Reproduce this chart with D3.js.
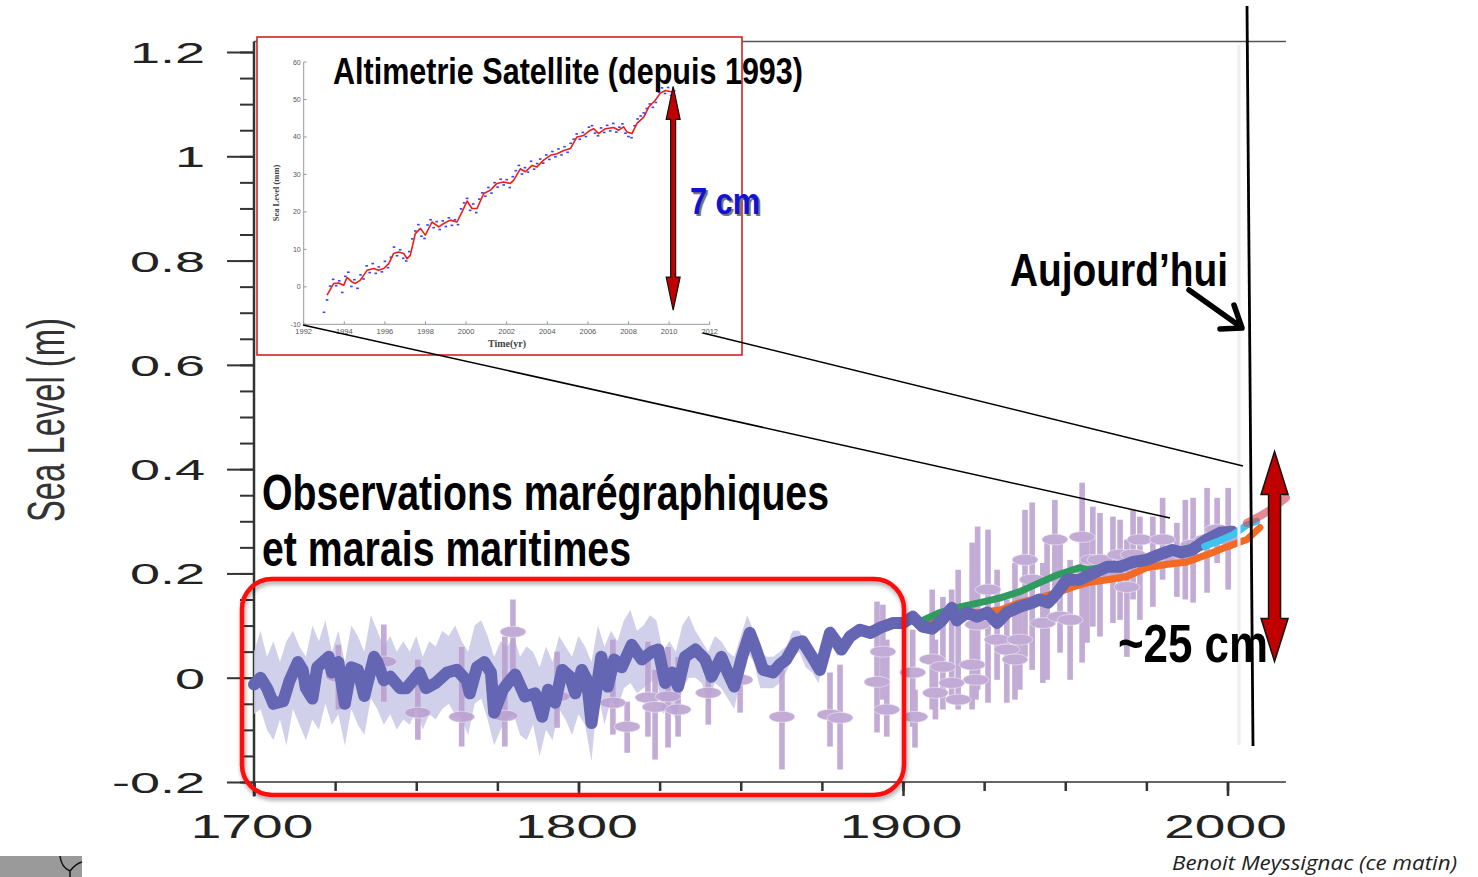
<!DOCTYPE html>
<html>
<head>
<meta charset="utf-8">
<script src="https://cdn.jsdelivr.net/npm/d3@7"></script>
<style>
  html, body { margin: 0; padding: 0; background: #fff; }
  svg { display: block; }
</style>
</head>
<body>
<svg id="chart" width="1478" height="877"></svg>
<script>
// ---------------- main chart axes ----------------
const yTickValues = [-0.2, 0, 0.2, 0.4, 0.6, 0.8, 1, 1.2];
const yTickLabels = ["-0.2", "0", "0.2", "0.4", "0.6", "0.8", "1", "1.2"];
const xTickValues = [1700, 1800, 1900, 2000];
const xTickLabels = ["1700", "1800", "1900", "2000"];

// ---------------- reconstruction 1700-2001 (m) ----------------
const reconYears = [1700,1702,1704,1706,1709,1711,1713.5,1715,1716,1718,1719.5,1723,1724,1726,1728,1730,1732,1734,1737,1738,1740,1742,1745,1747,1749,1751,1753,1756,1759.5,1762.5,1765.5,1766.5,1768.7,1771,1773,1774,1776.7,1779,1780.5,1783.5,1786.6,1788.8,1790.6,1792.8,1795,1797.4,1799,1801,1802.6,1804,1807,1809,1811,1813.3,1816.4,1819.5,1822.6,1824.6,1826.7,1828.8,1830.7,1832.8,1836,1839,1841,1844,1846,1848,1850.4,1852.8,1854.4,1856.9,1860,1862,1864,1867,1869,1872,1874.4,1877.5,1879.7,1881,1883.7,1886.7,1890,1893,1897,1900,1903,1906,1909,1912,1915,1916.6,1919.7,1922.8,1926,1929,1932,1936,1940,1942,1944.7,1947.5,1950.5,1954.5,1958.6,1963,1967,1971,1975,1979,1983,1986,1989,1993.7,1997.7,2001.5];
const reconValues = [-0.013,0.0,-0.02,-0.05,-0.045,-0.005,0.03,0.015,-0.02,-0.04,0.02,0.04,0.01,0.03,-0.05,0.02,0.015,-0.035,0.04,0.03,-0.005,0.002,-0.02,-0.02,-0.005,0.01,-0.02,-0.01,0.01,0.015,-0.005,-0.03,0.02,0.03,0.01,-0.067,-0.023,-0.004,0.006,-0.036,-0.03,-0.075,-0.023,-0.048,0.015,0.002,-0.03,0.015,-0.004,-0.087,0.04,-0.017,0.035,0.02,0.063,0.035,0.05,0.054,-0.01,0.01,-0.017,0.04,0.054,0.035,0.002,0.04,0.01,-0.017,0.04,0.086,0.06,0.015,0.01,0.025,0.035,0.067,0.07,0.04,0.015,0.086,0.067,0.054,0.079,0.092,0.086,0.096,0.105,0.105,0.117,0.098,0.094,0.11,0.134,0.11,0.125,0.117,0.125,0.105,0.125,0.136,0.144,0.15,0.144,0.163,0.188,0.188,0.2,0.213,0.213,0.222,0.226,0.236,0.245,0.24,0.245,0.265,0.278,0.28];

// uncertainty envelope of the reconstruction
const bandYears = [1700,1702,1704,1706,1708,1710,1712,1714,1716,1718,1720,1722,1724,1726,1728,1730,1732,1734,1736,1738,1740,1742,1744,1746,1748,1750,1752,1754,1756,1758,1760,1762,1764,1766,1768,1770,1772,1774,1776,1778,1780,1782,1784,1786,1788,1790,1792,1794,1796,1798,1800,1802,1804,1806,1808,1810,1812,1814,1816,1818,1820,1822,1824,1826,1828,1830,1832,1834,1836,1838,1840,1842,1844,1846,1848,1850,1852,1854,1856,1858,1860,1862,1864,1866,1868,1870,1872,1874,1876,1878,1880];
const bandUpper = [0.05,0.09,0.04,0.07,0.03,0.07,0.09,0.06,0.04,0.10,0.07,0.11,0.05,0.09,0.03,0.10,0.08,0.05,0.12,0.09,0.06,0.08,0.05,0.07,0.05,0.08,0.04,0.07,0.06,0.09,0.08,0.10,0.07,0.05,0.10,0.11,0.08,0.04,0.07,0.06,0.08,0.04,0.06,0.05,0.02,0.06,0.03,0.08,0.06,0.04,0.08,0.06,0.03,0.10,0.06,0.09,0.07,0.11,0.13,0.09,0.10,0.12,0.11,0.05,0.07,0.05,0.10,0.12,0.09,0.07,0.05,0.08,0.07,0.05,0.04,0.08,0.12,0.09,0.05,0.04,0.04,0.05,0.06,0.09,0.09,0.07,0.06,0.04,0.09,0.10,0.08];
const bandLower = [-0.07,-0.06,-0.10,-0.12,-0.08,-0.13,-0.06,-0.09,-0.12,-0.08,-0.10,-0.05,-0.09,-0.07,-0.13,-0.06,-0.09,-0.11,-0.04,-0.06,-0.09,-0.07,-0.10,-0.08,-0.09,-0.06,-0.10,-0.07,-0.08,-0.06,-0.05,-0.07,-0.08,-0.11,-0.05,-0.04,-0.08,-0.13,-0.10,-0.08,-0.07,-0.11,-0.12,-0.09,-0.15,-0.10,-0.12,-0.06,-0.08,-0.11,-0.07,-0.09,-0.16,-0.03,-0.09,-0.04,-0.06,-0.02,-0.01,-0.03,-0.02,-0.01,0.0,-0.07,-0.05,-0.08,-0.02,0.0,0.0,-0.01,-0.05,-0.01,-0.02,-0.04,-0.06,0.0,0.05,0.03,-0.02,-0.02,-0.02,-0.01,0.01,0.04,0.05,0.02,0.01,-0.01,0.05,0.06,0.04];

// ---------------- tide gauge reconstructions ----------------
const greenYears = [1903,1905,1911.4,1917.6,1923.7,1930,1936,1942,1947.5,1954.5,1956.7,1963,1971,1977,1985.4,1989,1992.5];
const greenValues = [0.108,0.107,0.125,0.136,0.144,0.153,0.165,0.182,0.197,0.211,0.207,0.213,0.222,0.23,0.245,0.25,0.251];
const orangeYears = [1883,1888,1893,1897,1902,1908,1914.5,1923.7,1930,1936,1942,1947.5,1952.4,1956.7,1963,1969,1975,1981,1987.5,1993.7,1999.8,2006,2010];
const orangeValues = [0.08,0.088,0.098,0.105,0.111,0.105,0.125,0.125,0.13,0.144,0.153,0.163,0.174,0.182,0.188,0.194,0.211,0.217,0.222,0.236,0.251,0.265,0.288];
const cyanYears = [1993,1996.8,2001.7,2006,2009];
const cyanValues = [0.252,0.261,0.274,0.293,0.30];
const redYears = [2006,2010,2014,2018];
const redValues = [0.297,0.31,0.325,0.345];

// ---------------- salt-marsh / tide gauge points with error bars ----------------
const marshYears = [1726,1740,1750.5,1764,1777.3,1779.8,1793.4,1810.6,1815,1821.4,1823.6,1827.6,1830.7,1840,1849.8,1862.7,1877.5,1880.6,1892,1893.8,1895,1903,1903.7,1909,1910,1912.3,1915,1917,1921.3,1922.5,1923,1926.2,1929,1932,1934.5,1936,1937.6,1939.8,1943.1,1944.4,1946.8,1948.4,1951.5,1955.2,1956.7,1958.5,1960.7,1964.7,1966.9,1969,1970.9,1973,1977,1980,1984.4,1987,1989.4,1993.7,1996.8,2000.2];
const marshValues = [0.002,0.031,-0.067,-0.075,-0.073,0.088,-0.036,-0.048,-0.094,-0.038,-0.056,-0.036,-0.061,-0.029,-0.004,-0.075,-0.071,-0.077,-0.008,0.05,-0.061,0.01,-0.075,0.035,-0.029,0.021,-0.01,-0.042,0.025,-0.004,0.102,0.169,0.073,0.054,0.035,0.073,0.226,0.188,0.105,0.15,0.265,0.117,0.111,0.27,0.207,0.226,0.226,0.198,0.236,0.174,0.236,0.265,0.217,0.265,0.226,0.236,0.255,0.265,0.284,0.265];
const marshHigh = [0.063,0.102,0.035,0.059,0.079,0.15,0.05,0.073,-0.046,0.069,0.015,0.059,0.04,0.015,0.04,0.015,0.01,0.025,0.146,0.14,0.073,0.092,-0.023,0.169,0.073,0.155,0.169,0.207,0.259,0.15,0.29,0.284,0.207,0.15,0.22,0.169,0.322,0.336,0.22,0.265,0.341,0.27,0.226,0.374,0.265,0.328,0.316,0.309,0.303,0.265,0.322,0.309,0.309,0.345,0.297,0.341,0.345,0.364,0.345,0.364];
const marshLow = [-0.061,-0.046,-0.119,-0.132,-0.132,0.01,-0.096,-0.109,-0.144,-0.113,-0.157,-0.134,-0.113,-0.09,-0.067,-0.176,-0.132,-0.176,-0.105,-0.042,-0.113,-0.094,-0.134,-0.061,-0.08,-0.061,-0.048,-0.061,-0.061,-0.042,-0.023,-0.048,-0.004,-0.048,-0.042,-0.023,0.04,0.015,-0.01,-0.004,0.15,0.048,-0.004,0.029,0.067,0.098,0.079,0.105,0.111,0.04,0.15,0.111,0.136,0.188,0.155,0.15,0.144,0.163,0.22,0.169];

// ---------------- satellite altimetry inset (mm) ----------------
const insetYTicks = [-10, 0, 10, 20, 30, 40, 50, 60];
const insetXTicks = [1992, 1994, 1996, 1998, 2000, 2002, 2004, 2006, 2008, 2010, 2012];
const altiYears = [1993.15,1993.48,1993.72,1993.97,1994.13,1994.38,1994.55,1994.79,1995.12,1995.45,1995.69,1995.94,1996.19,1996.43,1996.68,1996.93,1997.09,1997.25,1997.5,1997.75,1997.99,1998.32,1998.65,1998.9,1999.22,1999.55,1999.8,2000.05,2000.29,2000.54,2000.87,2001.2,2001.52,2001.85,2002.18,2002.34,2002.67,2002.92,2003.25,2003.49,2003.82,2004.15,2004.48,2004.81,2005.14,2005.46,2005.79,2006.12,2006.29,2006.53,2006.86,2007.27,2007.52,2007.76,2007.93,2008.17,2008.42,2008.75,2009.0,2009.32,2009.57,2009.82,2010.14];
const altiSmooth = [-2.2,0.9,1.0,0.4,2.5,1.3,0.9,1.8,4.4,4.9,4.4,4.9,6.2,8.9,9.3,8.9,7.5,8.4,14.2,15.6,13.8,17.3,16.0,16.9,17.8,17.3,20.0,22.9,20.9,20.9,24.9,25.8,27.6,28.0,27.6,28.4,31.5,30.7,32.4,32.0,33.8,35.1,35.5,36.4,36.9,40.0,40.4,41.8,42.2,40.9,42.2,42.5,41.8,42.7,41.3,40.9,43.6,45.3,48.0,49.8,51.7,52.4,52.0];
// cycle estimates, first cycle 1993.0, one value every 0.15 yr
const altiRawStart = 1993.0;
const altiRawStep = 0.15;
const altiRaw = [-6.8,-3.5,0.2,2.0,0.3,1.6,-1.5,2.8,3.9,0.1,1.9,-0.4,3.2,2.1,5.6,3.8,6.2,3.6,5.3,4.0,6.8,5.1,7.9,10.6,8.3,9.9,7.6,6.9,9.4,12.8,14.9,16.6,13.5,12.9,16.5,17.9,15.8,17.4,15.3,17.6,16.1,18.4,16.4,17.9,16.6,20.8,22.4,23.6,20.4,22.1,19.8,23.4,25.1,24.2,26.5,25.0,27.8,26.6,28.7,27.2,28.6,26.5,29.4,31.0,32.4,30.1,31.8,30.6,33.5,31.4,32.9,34.1,33.0,35.2,34.0,36.1,34.7,36.8,35.2,37.4,35.9,38.3,39.4,40.8,39.4,41.2,40.1,42.6,43.0,41.0,40.3,42.4,41.2,43.1,41.6,43.6,41.3,42.6,43.5,41.0,40.1,39.8,43.0,44.8,45.6,46.4,47.6,48.8,47.9,49.2,51.9,53.1,51.6,53.2,51.1,52.3];

// ---------------- drawing ----------------
const svg = d3.select("#chart");
const W = 1478, H = 877;
svg.append("rect").attr("width", W).attr("height", H).attr("fill", "#fff");

const x = d3.scaleLinear().domain([1700, 2000]).range([254, 1227.5]);
const y = d3.scaleLinear().domain([-0.2, 1.2]).range([782, 52]);

const narrow = "'Liberation Sans Narrow','Arial Narrow','Liberation Sans',Arial,sans-serif";
const sans = "'Liberation Sans',Arial,Helvetica,sans-serif";

const defs = svg.append("defs");
const shadow = defs.append("filter").attr("id", "soft").attr("x", "-10%").attr("y", "-10%").attr("width", "120%").attr("height", "130%");
shadow.append("feDropShadow").attr("dx", 1).attr("dy", 3).attr("stdDeviation", 2).attr("flood-color", "#000").attr("flood-opacity", 0.35);
const blurF = defs.append("filter").attr("id", "blur1");
blurF.append("feGaussianBlur").attr("stdDeviation", 0.6);

// top frame line
svg.append("line")
  .attr("x1", x(1700)).attr("x2", x(2018))
  .attr("y1", y(1.22)).attr("y2", y(1.22))
  .attr("stroke", "#555").attr("stroke-width", 1.5);

// left axis: majors with long ticks, minors every 0.05
const yMinor = d3.range(-0.2, 1.2001, 0.05).map(v => +v.toFixed(2));
const leftAxisMinor = d3.axisLeft(y).tickValues(yMinor).tickSize(14).tickFormat("");
const leftAxisMajor = d3.axisLeft(y).tickValues(yTickValues).tickSize(27).tickFormat("");
const gL1 = svg.append("g").attr("transform", `translate(${x(1700)},0)`).call(leftAxisMinor);
const gL2 = svg.append("g").attr("transform", `translate(${x(1700)},0)`).call(leftAxisMajor);
[gL1, gL2].forEach(g => {
  g.select(".domain").remove();
  g.selectAll("line").attr("stroke", "#333").attr("stroke-width", 2);
});
svg.append("line").attr("x1", x(1700)).attr("x2", x(1700))
  .attr("y1", y(1.22)).attr("y2", y(-0.228))
  .attr("stroke", "#333").attr("stroke-width", 2.5);

// bottom axis
const xMinor = d3.range(1700, 2001, 25);
const bAxisMinor = d3.axisBottom(x).tickValues(xMinor).tickSize(9).tickFormat("");
const bAxisMajor = d3.axisBottom(x).tickValues(xTickValues).tickSize(14).tickFormat("");
const gB1 = svg.append("g").attr("transform", `translate(0,${y(-0.2)})`).call(bAxisMinor);
const gB2 = svg.append("g").attr("transform", `translate(0,${y(-0.2)})`).call(bAxisMajor);
[gB1, gB2].forEach(g => {
  g.select(".domain").remove();
  g.selectAll("line").attr("stroke", "#333").attr("stroke-width", 2.5);
});
svg.append("line").attr("x1", x(1700)).attr("x2", x(2018))
  .attr("y1", y(-0.2)).attr("y2", y(-0.2))
  .attr("stroke", "#333").attr("stroke-width", 1.5);

// tick labels (wide lettering)
svg.append("g").selectAll("text").data(yTickValues).join("text")
  .attr("transform", d => `translate(205,${y(d) + 11}) scale(1.8,1)`)
  .attr("text-anchor", "end")
  .attr("font-family", sans).attr("font-size", 30).attr("fill", "#222")
  .text((d, i) => yTickLabels[i]);
svg.append("g").selectAll("text").data(xTickValues).join("text")
  .attr("transform", d => `translate(${x(d) - 2},${838}) scale(1.62,1)`)
  .attr("text-anchor", "middle")
  .attr("font-family", sans).attr("font-size", 34).attr("fill", "#222")
  .text((d, i) => xTickLabels[i]);

// y axis title
svg.append("text")
  .attr("transform", "translate(64,420) rotate(-90)")
  .attr("text-anchor", "middle")
  .attr("font-family", narrow).attr("font-size", 52).attr("fill", "#333")
  .attr("textLength", 204).attr("lengthAdjust", "spacingAndGlyphs")
  .text("Sea Level (m)");

// uncertainty band
const band = bandYears.map((yr, i) => ({ yr, lo: bandLower[i], hi: bandUpper[i] }));
svg.append("path").datum(band)
  .attr("d", d3.area().x(d => x(d.yr)).y0(d => y(d.lo)).y1(d => y(d.hi)))
  .attr("fill", "#cac8e7").attr("opacity", 0.85).attr("filter", "url(#blur1)");

// marsh points with error bars
const marsh = marshYears.map((yr, i) => ({ yr, v: marshValues[i], hi: marshHigh[i], lo: marshLow[i] }));
const gm = svg.append("g").attr("opacity", 0.88);
gm.selectAll("rect").data(marsh).join("rect")
  .attr("x", d => x(d.yr) - 2.8).attr("width", 5.6)
  .attr("y", d => y(d.hi)).attr("height", d => y(d.lo) - y(d.hi))
  .attr("fill", "#baa0cf");
gm.selectAll("ellipse").data(marsh).join("ellipse")
  .attr("cx", d => x(d.yr)).attr("cy", d => y(d.v))
  .attr("rx", 13).attr("ry", 5.5)
  .attr("fill", "#baa0cf").attr("stroke", "#efe8f5").attr("stroke-width", 0.6);

// series lines
function seriesLine(years, values, color, width, opacity) {
  const pts = years.map((yr, i) => [x(yr), y(values[i])]);
  svg.append("path").datum(pts)
    .attr("d", d3.line())
    .attr("fill", "none").attr("stroke", color).attr("stroke-width", width)
    .attr("stroke-linejoin", "round").attr("stroke-linecap", "round")
    .attr("opacity", opacity || 1);
}
seriesLine(orangeYears, orangeValues, "#f26a24", 7);
seriesLine(greenYears, greenValues, "#2f9b5f", 7);
seriesLine(reconYears, reconValues, "#6466b3", 12);
seriesLine(cyanYears, cyanValues, "#3fc4ee", 7);
seriesLine(redYears, redValues, "#d84a58", 8, 0.65);

// "today" markers
svg.append("line").attr("x1", 1239).attr("x2", 1239).attr("y1", 45).attr("y2", 745)
  .attr("stroke", "#eeeef4").attr("stroke-width", 3);
svg.append("line").attr("x1", 1247).attr("x2", 1253).attr("y1", 6).attr("y2", 746)
  .attr("stroke", "#000").attr("stroke-width", 2.8);

// ---------------- inset ----------------
const ix = d3.scaleLinear().domain([1992, 2012]).range([303.7, 709.7]);
const iy = d3.scaleLinear().domain([-10, 60]).range([324.3, 62]);
const inset = svg.append("g");
inset.append("rect").attr("x", 257).attr("y", 37).attr("width", 485).attr("height", 318)
  .attr("fill", "#fff").attr("stroke", "#d42222").attr("stroke-width", 1.6);
inset.append("line").attr("x1", ix(1992)).attr("x2", ix(1992)).attr("y1", iy(60)).attr("y2", iy(-10))
  .attr("stroke", "#999").attr("stroke-width", 1);
inset.append("line").attr("x1", ix(1992)).attr("x2", ix(2012)).attr("y1", iy(-10)).attr("y2", iy(-10))
  .attr("stroke", "#999").attr("stroke-width", 1);
inset.append("g").selectAll("line").data(insetYTicks).join("line")
  .attr("x1", ix(1992)).attr("x2", ix(1992) + 3).attr("y1", d => iy(d)).attr("y2", d => iy(d))
  .attr("stroke", "#999");
inset.append("g").selectAll("line").data(insetXTicks).join("line")
  .attr("x1", d => ix(d)).attr("x2", d => ix(d)).attr("y1", iy(-10)).attr("y2", iy(-10) - 3)
  .attr("stroke", "#999");
inset.append("g").selectAll("text").data(insetYTicks).join("text")
  .attr("x", ix(1992) - 3).attr("y", d => iy(d) + 2.5).attr("text-anchor", "end")
  .attr("font-family", sans).attr("font-size", 7).attr("fill", "#555")
  .text(d => d);
inset.append("g").selectAll("text").data(insetXTicks).join("text")
  .attr("x", d => ix(d)).attr("y", iy(-10) + 10).attr("text-anchor", "middle")
  .attr("font-family", sans).attr("font-size", 7.5).attr("fill", "#555")
  .text(d => d);
inset.append("text").attr("x", 507).attr("y", 347).attr("text-anchor", "middle")
  .attr("font-family", "'Liberation Serif','DejaVu Serif',serif").attr("font-weight", "bold")
  .attr("font-size", 10).attr("fill", "#444").text("Time(yr)");
inset.append("text").attr("transform", "translate(279,193) rotate(-90)").attr("text-anchor", "middle")
  .attr("font-family", "'Liberation Serif','DejaVu Serif',serif").attr("font-weight", "bold")
  .attr("font-size", 8.5).attr("fill", "#444").text("Sea Level (mm)");

const raw = altiRaw.map((v, i) => ({ t: altiRawStart + i * altiRawStep, v }));
inset.append("g").selectAll("rect").data(raw).join("rect")
  .attr("x", d => ix(d.t) - 1.3).attr("y", d => iy(d.v) - 0.8)
  .attr("width", 2.6).attr("height", 1.6).attr("fill", "#3340ff");
inset.append("path").datum(altiYears.map((t, i) => [ix(t), iy(altiSmooth[i])]))
  .attr("d", d3.line()).attr("fill", "none").attr("stroke", "#ee1c1c").attr("stroke-width", 1.6)
  .attr("stroke-linejoin", "round");

// double-headed arrow outline
function doubleArrow(cx, top, bottom, shaftW, headW, headL) {
  const s = shaftW / 2, h = headW / 2;
  return `M${cx},${top} L${cx + h},${top + headL} L${cx + s},${top + headL} L${cx + s},${bottom - headL} ` +
         `L${cx + h},${bottom - headL} L${cx},${bottom} L${cx - h},${bottom - headL} L${cx - s},${bottom - headL} ` +
         `L${cx - s},${top + headL} L${cx - h},${top + headL} Z`;
}
inset.append("path").attr("d", doubleArrow(ix(2010.2), iy(53.5), iy(-6.2), 5, 14, 33))
  .attr("fill", "#c00000").attr("stroke", "#111").attr("stroke-width", 1.2);

// inset title and 7 cm label
svg.append("text").attr("x", 333).attr("y", 84)
  .attr("font-family", narrow).attr("font-weight", "bold").attr("font-size", 36).attr("fill", "#000")
  .attr("textLength", 470).attr("lengthAdjust", "spacingAndGlyphs")
  .text("Altimetrie Satellite (depuis 1993)");
svg.append("text").attr("x", 692).attr("y", 216)
  .attr("font-family", narrow).attr("font-weight", "bold").attr("font-size", 37).attr("fill", "#777")
  .attr("textLength", 70).attr("lengthAdjust", "spacingAndGlyphs").text("7 cm");
svg.append("text").attr("x", 690).attr("y", 214)
  .attr("font-family", narrow).attr("font-weight", "bold").attr("font-size", 37).attr("fill", "#1111dd")
  .attr("textLength", 70).attr("lengthAdjust", "spacingAndGlyphs").text("7 cm");

// connector lines from the inset to the recent period
svg.append("line").attr("x1", 303).attr("y1", 325).attr("x2", 1170).attr("y2", 518)
  .attr("stroke", "#000").attr("stroke-width", 1.5);
svg.append("line").attr("x1", 703).attr("y1", 333).attr("x2", 1243).attr("y2", 466)
  .attr("stroke", "#000").attr("stroke-width", 1.5);

// ---------------- annotations ----------------
svg.append("text").attr("x", 262).attr("y", 510)
  .attr("font-family", narrow).attr("font-weight", "bold").attr("font-size", 50).attr("fill", "#000")
  .attr("textLength", 567).attr("lengthAdjust", "spacingAndGlyphs")
  .text("Observations marégraphiques");
svg.append("text").attr("x", 262).attr("y", 566)
  .attr("font-family", narrow).attr("font-weight", "bold").attr("font-size", 50).attr("fill", "#000")
  .attr("textLength", 369).attr("lengthAdjust", "spacingAndGlyphs")
  .text("et marais maritimes");

svg.append("rect").attr("x", 242).attr("y", 579).attr("width", 662).attr("height", 216)
  .attr("rx", 30).attr("ry", 30)
  .attr("fill", "none").attr("stroke", "#ff0a0a").attr("stroke-width", 4.5)
  .attr("filter", "url(#soft)");

svg.append("text").attr("x", 1010).attr("y", 286)
  .attr("font-family", narrow).attr("font-weight", "bold").attr("font-size", 47).attr("fill", "#000")
  .attr("textLength", 218).attr("lengthAdjust", "spacingAndGlyphs")
  .text("Aujourd’hui");
svg.append("path")
  .attr("d", "M1189,290 L1241,327 M1220,329 L1242,328 L1234,305")
  .attr("fill", "none").attr("stroke", "#000").attr("stroke-width", 5.5)
  .attr("stroke-linecap", "round").attr("stroke-linejoin", "round");

svg.append("text").attr("x", 1118).attr("y", 662)
  .attr("font-family", narrow).attr("font-weight", "bold").attr("font-size", 54).attr("fill", "#000")
  .attr("textLength", 150).attr("lengthAdjust", "spacingAndGlyphs")
  .text("~25 cm");

svg.append("path").attr("d", doubleArrow(x(2014.5), y(0.434), y(0.031), 12, 27, 43))
  .attr("fill", "#c00000").attr("stroke", "#111").attr("stroke-width", 1.5);

// credit
svg.append("text").attr("x", 1457).attr("y", 870).attr("text-anchor", "end")
  .attr("font-family", "'Open Sans','Liberation Sans',sans-serif").attr("font-style", "italic")
  .attr("font-size", 20).attr("fill", "#222")
  .attr("textLength", 285).attr("lengthAdjust", "spacingAndGlyphs")
  .text("Benoit Meyssignac (ce matin)");

// corner fragment
svg.append("rect").attr("x", 0).attr("y", 856).attr("width", 82).attr("height", 21).attr("fill", "#9a9a9a");
svg.append("path").attr("d", "M60,856 C61,865 65,869 70,871 L70,877 M70,871 C74,866 77,863 82,862")
  .attr("fill", "none").attr("stroke", "#111").attr("stroke-width", 1.5);
</script>
</body>
</html>
